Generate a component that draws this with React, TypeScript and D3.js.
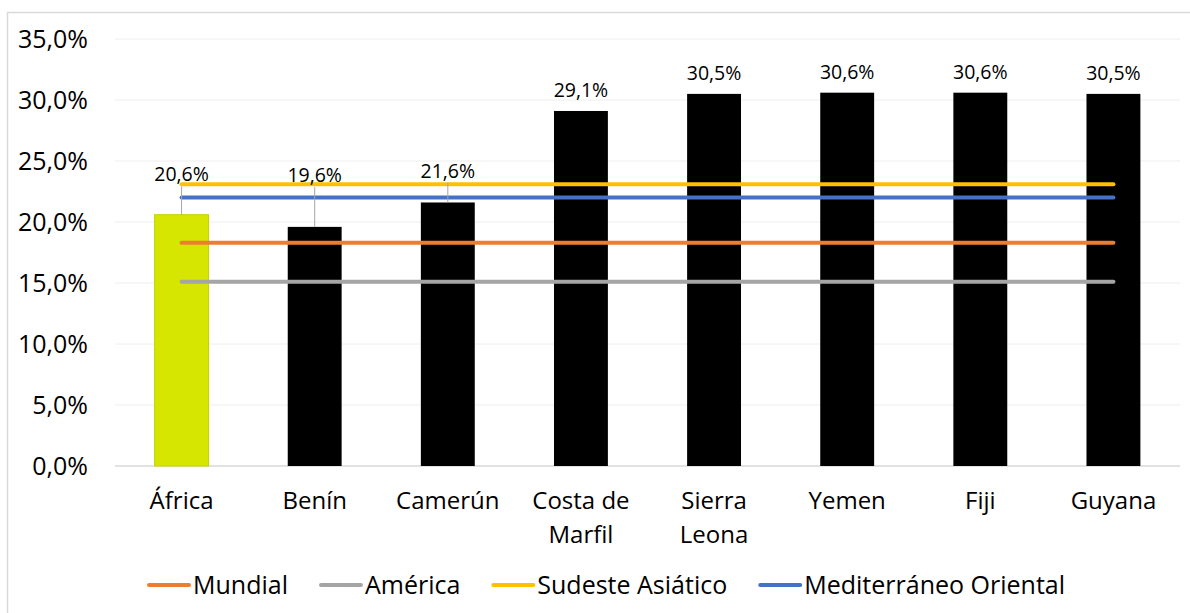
import React, { useMemo } from "react";
import * as d3 from "d3";

// Prevalence by country/region (%), with regional reference levels
const categories = ["África", "Benín", "Camerún", "Costa de Marfil", "Sierra Leona", "Yemen", "Fiji", "Guyana"];
const prevalence = [20.6, 19.6, 21.6, 29.1, 30.5, 30.6, 30.6, 30.5];
const barColors = ["#d6e600", "#000000", "#000000", "#000000", "#000000", "#000000", "#000000", "#000000"];

// Data labels moved above the reference lines (value on the y axis where the label sits)
const labelRaisedTo: (number | null)[] = [23.9, 23.85, 24.2, null, null, null, null, null];

const regionNames = ["Mundial", "América", "Sudeste Asiático", "Mediterráneo Oriental"];
const regionValues = [18.3, 15.1, 23.1, 22.0];
const regionColors = ["#ed7d31", "#a5a5a5", "#ffc000", "#4472c4"];

const yTicks = [0, 5, 10, 15, 20, 25, 30, 35];

const W = 1190;
const H = 613;
const FONT = "'Open Sans', sans-serif";
const plot = { left: 115, right: 1180, top: 39, bottom: 466 };

const pct = (v: number) => d3.format(".1f")(v).replace(".", ",") + "%";

function measure(text: string, size: number) {
  const c = document.createElement("canvas").getContext("2d")!;
  c.font = `${size}px ${FONT}`;
  return c.measureText(text).width;
}

function wrap(text: string, maxWidth: number, size: number) {
  const words = text.split(" ");
  const lines: string[] = [];
  let cur = "";
  for (const w of words) {
    const t = cur ? cur + " " + w : w;
    if (cur && measure(t, size) > maxWidth) {
      lines.push(cur);
      cur = w;
    } else cur = t;
  }
  if (cur) lines.push(cur);
  return lines;
}

export default function App() {
  const x = d3.scaleBand<string>().domain(categories).range([plot.left, plot.right]).padding(0);
  const y = d3.scaleLinear().domain([0, 35]).range([plot.bottom, plot.top]);
  const step = x.bandwidth();
  const barW = step / 2.47;
  const cx = (c: string) => (x(c) as number) + step / 2;

  const firstX = cx(categories[0]);
  const lastX = cx(categories[categories.length - 1]);

  const catSize = 24;
  const labelLines = useMemo(() => categories.map((c) => wrap(c, step - 4, catSize)), [step]);

  const legendSize = 25;
  const legendItems = useMemo(() => {
    const swatch = 40;
    const gapText = 4;
    const gapItem = 33;
    const widths = regionNames.map((n) => swatch + gapText + measure(n, legendSize));
    const total = widths.reduce((a, b) => a + b, 0) + gapItem * (regionNames.length - 1);
    let pos = 607 - total / 2;
    return regionNames.map((n, i) => {
      const item = { name: n, x: pos, color: regionColors[i], swatch, gapText };
      pos += widths[i] + gapItem;
      return item;
    });
  }, []);

  return (
    <svg
      width={W}
      height={H}
      style={{ position: "absolute", left: 0, top: 0, background: "#fff" }}
      fontFamily={FONT}
    >
      <rect x={7.5} y={12.5} width={W} height={H} fill="#fff" stroke="#d9d9d9" strokeWidth={1.5} />

      {/* gridlines */}
      {yTicks.map((t) => (
        <line
          key={"g" + t}
          x1={plot.left}
          x2={plot.right}
          y1={y(t)}
          y2={y(t)}
          stroke={t === 0 ? "#d9d9d9" : "#eeeeee"}
          strokeWidth={t === 0 ? 1.5 : 1}
        />
      ))}

      {/* y tick labels */}
      {yTicks.map((t) => (
        <text key={"t" + t} x={88} y={y(t)} dy="0.36em" textAnchor="end" fontSize={25} fill="#000">
          {pct(t)}
        </text>
      ))}

      {/* bars */}
      {categories.map((c, i) => (
        <rect
          key={"b" + c}
          x={cx(c) - barW / 2}
          y={y(prevalence[i])}
          width={barW}
          height={y(0) - y(prevalence[i])}
          fill={barColors[i]}
          stroke={i === 0 ? "#c3d400" : "none"}
          strokeWidth={1}
        />
      ))}

      {/* reference lines */}
      {regionValues.map((v, i) => (
        <line
          key={"r" + i}
          x1={firstX}
          x2={lastX}
          y1={y(v)}
          y2={y(v)}
          stroke={regionColors[i]}
          strokeWidth={4}
          strokeLinecap="round"
        />
      ))}

      {/* data labels */}
      {categories.map((c, i) => {
        const raised = labelRaisedTo[i];
        const top = y(prevalence[i]);
        if (raised != null) {
          const ly = y(raised);
          return (
            <g key={"l" + c}>
              <line x1={cx(c)} x2={cx(c)} y1={ly + 12} y2={top} stroke="#a6a6a6" strokeWidth={1} />
              <text x={cx(c)} y={ly} dy="0.36em" textAnchor="middle" fontSize={19.5} fill="#000">
                {pct(prevalence[i])}
              </text>
            </g>
          );
        }
        return (
          <text key={"l" + c} x={cx(c)} y={top - 14} textAnchor="middle" fontSize={19.5} fill="#000">
            {pct(prevalence[i])}
          </text>
        );
      })}

      {/* category labels */}
      {categories.map((c, i) => (
        <text key={"c" + c} x={cx(c)} y={509} textAnchor="middle" fontSize={catSize} fill="#000">
          {labelLines[i].map((ln, k) => (
            <tspan key={k} x={cx(c)} dy={k === 0 ? 0 : 34}>
              {ln}
            </tspan>
          ))}
        </text>
      ))}

      {/* legend */}
      {legendItems.map((it) => (
        <g key={it.name}>
          <line x1={it.x} x2={it.x + it.swatch} y1={585} y2={585} stroke={it.color} strokeWidth={4} strokeLinecap="round" />
          <text x={it.x + it.swatch + it.gapText} y={585} dy="0.36em" fontSize={legendSize} fill="#000">
            {it.name}
          </text>
        </g>
      ))}
    </svg>
  );
}
